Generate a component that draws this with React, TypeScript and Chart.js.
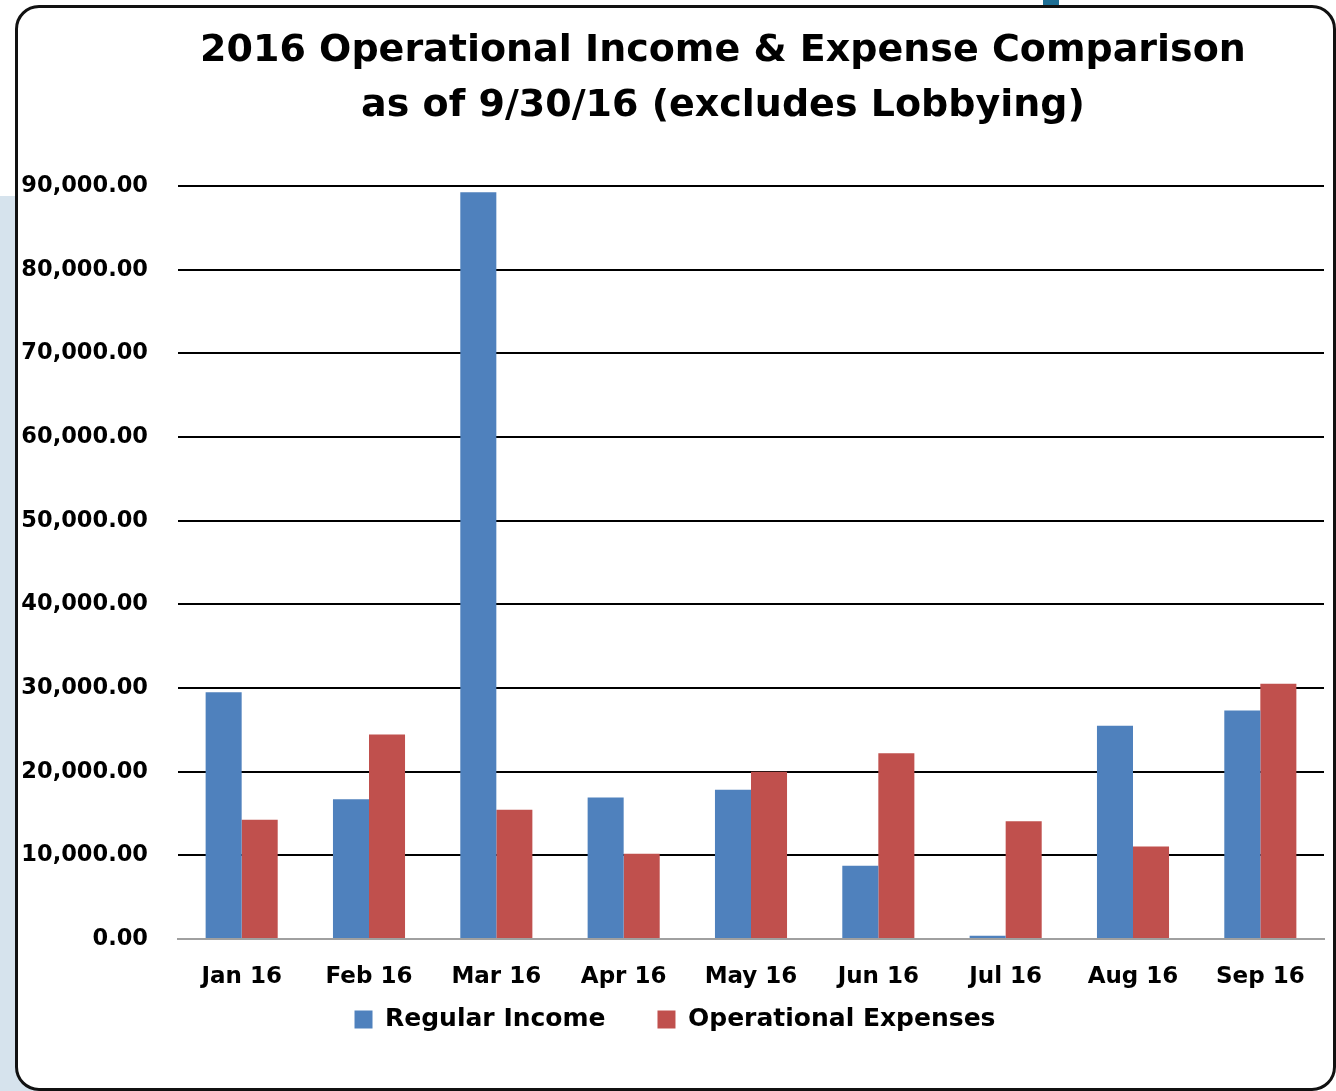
import React, { useEffect, useRef } from "react";
import { Chart, registerables } from "chart.js";

Chart.register(...registerables);

const MONTHS = ["Jan 16", "Feb 16", "Mar 16", "Apr 16", "May 16", "Jun 16", "Jul 16", "Aug 16", "Sep 16"];
const REGULAR_INCOME = [29500, 16700, 89250, 16900, 17850, 8750, 380, 25500, 27300];
const OPERATIONAL_EXPENSES = [14250, 24450, 15450, 10200, 20000, 22200, 14070, 11050, 30500];
const SERIES_NAMES = ["Regular Income", "Operational Expenses"];
const SERIES_COLORS = ["#4F81BD", "#C0504D"];
const Y_MIN = 0;
const Y_MAX = 90000;
const Y_STEP = 10000;
const TITLE_LINES = ["2016 Operational Income & Expense Comparison", "as of 9/30/16 (excludes Lobbying)"];

const FONT = '"DejaVu Sans", sans-serif';

const titlePlugin = {
  id: "twoLineTitle",
  afterDraw(chart: any) {
    const ctx = chart.ctx;
    ctx.save();
    ctx.fillStyle = "#000";
    ctx.font = `bold 38px ${FONT}`;
    ctx.textAlign = "center";
    ctx.textBaseline = "middle";
    TITLE_LINES.forEach((line, i) => {
      ctx.fillText(line, 723, 51 + i * 55);
    });
    ctx.restore();
  },
};

// move the legend closer to the axis labels (its label padding also sets the gap between items)
const legendNudge = {
  id: "legendNudge",
  afterLayout(chart: any) {
    const lg = chart.legend;
    if (!lg) return;
    const dy = -38;
    const dx = 13;
    lg.top += dy;
    lg.bottom += dy;
    lg.left += dx;
    lg.right += dx;
    if (lg.legendHitBoxes)
      lg.legendHitBoxes.forEach((b: any) => {
        b.top += dy;
        b.left += dx;
      });
  },
};

export default function App() {
  const canvasRef = useRef<HTMLCanvasElement | null>(null);

  useEffect(() => {
    const canvas = canvasRef.current;
    if (!canvas) return;
    const chart = new Chart(canvas, {
      type: "bar",
      data: {
        labels: MONTHS,
        datasets: [
          {
            label: SERIES_NAMES[0],
            data: REGULAR_INCOME,
            backgroundColor: SERIES_COLORS[0],
            categoryPercentage: 0.566,
            barPercentage: 1,
          },
          {
            label: SERIES_NAMES[1],
            data: OPERATIONAL_EXPENSES,
            backgroundColor: SERIES_COLORS[1],
            categoryPercentage: 0.566,
            barPercentage: 1,
          },
        ],
      },
      plugins: [titlePlugin, legendNudge],
      options: {
        animation: false,
        responsive: false,
        devicePixelRatio: 1,
        layout: { padding: { left: 0, right: 12, top: 186, bottom: 11 } },
        plugins: {
          title: { display: false },
          tooltip: { enabled: false },
          legend: {
            display: true,
            position: "bottom",
            labels: {
              color: "#000",
              font: { family: FONT, size: 25, weight: "bold" },
              boxWidth: 18,
              boxHeight: 18,
              padding: 52,
            },
          },
        },
        scales: {
          x: {
            grid: { display: false, drawTicks: false },
            border: { display: true, color: "#a0a0a0", width: 2 },
            ticks: {
              color: "#000",
              font: { family: FONT, size: 23, weight: "bold" },
              padding: 24,
              maxRotation: 0,
            },
            afterFit(scale: any) {
              scale.height = 54;
            },
          },
          y: {
            min: Y_MIN,
            max: Y_MAX,
            grid: {
              drawTicks: false,
              color: (c: any) => (c.tick && c.tick.value === 0 ? "rgba(0,0,0,0)" : "#000"),
              lineWidth: 2,
            },
            border: { display: false },
            ticks: {
              stepSize: Y_STEP,
              color: "#000",
              font: { family: FONT, size: 22.5, weight: "bold" },
              padding: 30,
              callback: (v: any) =>
                Number(v).toLocaleString("en-US", { minimumFractionDigits: 2, maximumFractionDigits: 2 }),
            },
            afterFit(scale: any) {
              scale.width = 178;
            },
          },
        },
      },
    });
    return () => chart.destroy();
  }, []);

  return (
    <div
      style={{
        position: "absolute",
        left: 0,
        top: 0,
        width: 1336,
        height: 1091,
        overflow: "hidden",
        background: "#fff",
      }}
    >
      <div
        style={{
          position: "absolute",
          left: 0,
          top: 196,
          width: 60,
          height: 895,
          background: "#d6e3ed",
          borderTopRightRadius: 40,
        }}
      />
      <div
        style={{
          position: "absolute",
          left: 1043,
          top: 0,
          width: 16,
          height: 5,
          background: "#1f6f95",
        }}
      />
      <div
        style={{
          position: "absolute",
          left: 15,
          top: 5,
          width: 1321,
          height: 1086,
          boxSizing: "border-box",
          border: "3px solid #111",
          borderRadius: 24,
          background: "#fff",
        }}
      />
      <canvas
        ref={canvasRef}
        width={1336}
        height={1091}
        style={{ position: "absolute", left: 0, top: 0, width: 1336, height: 1091 }}
      />
    </div>
  );
}
